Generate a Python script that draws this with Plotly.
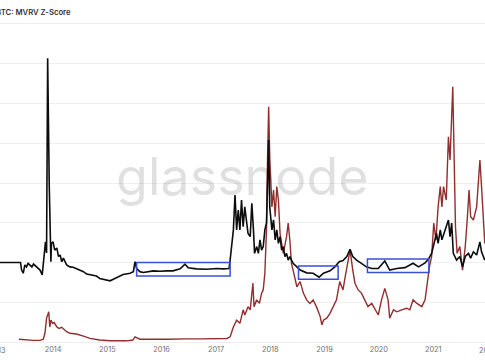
import pandas as pd
import plotly.graph_objects as go

# ---- data (decimal years, values in chart units) ----
black_years = [2013.02, 2013.40, 2013.42, 2013.45, 2013.48, 2013.51, 2013.54, 2013.61, 2013.64, 2013.70,
               2013.76, 2013.80, 2013.83, 2013.86, 2013.88, 2013.89, 2013.90, 2013.93, 2013.94, 2013.96,
               2013.97, 2014.00, 2014.03, 2014.07, 2014.10, 2014.13, 2014.16, 2014.19, 2014.25, 2014.31,
               2014.37, 2014.43, 2014.50, 2014.56, 2014.62, 2014.68, 2014.80, 2014.86, 2015.05, 2015.11,
               2015.20, 2015.29, 2015.42, 2015.48, 2015.51, 2015.54, 2015.60, 2015.66, 2015.85, 2015.97,
               2016.09, 2016.21, 2016.34, 2016.43, 2016.49, 2016.64, 2016.83, 2017.01, 2017.13, 2017.24,
               2017.26, 2017.29, 2017.32, 2017.35, 2017.38, 2017.41, 2017.44, 2017.47, 2017.50, 2017.53,
               2017.57, 2017.59, 2017.63, 2017.66, 2017.69, 2017.71, 2017.75, 2017.78, 2017.81, 2017.84,
               2017.87, 2017.90, 2017.93, 2017.95, 2017.97, 2017.99, 2018.03, 2018.06, 2018.09, 2018.12,
               2018.15, 2018.18, 2018.21, 2018.24, 2018.27, 2018.30, 2018.33, 2018.36, 2018.42, 2018.49,
               2018.55, 2018.67, 2018.79, 2018.90, 2018.98, 2019.10, 2019.19, 2019.27, 2019.34, 2019.41,
               2019.47, 2019.52, 2019.59, 2019.68, 2019.77, 2019.87, 2019.99, 2020.11, 2020.20, 2020.33,
               2020.48, 2020.63, 2020.73, 2020.85, 2020.91, 2020.97, 2021.00, 2021.06, 2021.09, 2021.13,
               2021.16, 2021.22, 2021.28, 2021.31, 2021.34, 2021.37, 2021.43, 2021.49, 2021.54, 2021.59,
               2021.65, 2021.69, 2021.74, 2021.80, 2021.86, 2021.89, 2021.95]
black_values = [2.00, 2.00, 1.81, 1.73, 1.94, 1.89, 1.98, 1.89, 1.96, 1.89,
                1.81, 1.69, 2.06, 2.52, 2.24, 3.75, 7.14, 3.91, 3.15, 2.02,
                2.48, 2.52, 2.31, 2.36, 2.15, 2.19, 2.02, 2.11, 1.94, 1.89,
                1.88, 1.85, 1.81, 1.77, 1.71, 1.69, 1.66, 1.60, 1.54, 1.58,
                1.64, 1.70, 1.73, 1.77, 2.02, 1.85, 1.77, 1.75, 1.79, 1.78,
                1.79, 1.79, 1.84, 1.96, 1.87, 1.84, 1.83, 1.85, 1.84, 1.85,
                2.06, 2.48, 2.82, 3.70, 2.82, 3.32, 2.82, 3.57, 2.90, 3.40,
                2.82, 2.73, 2.65, 3.49, 2.82, 2.23, 2.40, 2.23, 2.57, 2.31,
                2.40, 2.82, 2.99, 3.82, 5.08, 3.40, 2.82, 3.07, 2.57, 2.82,
                2.48, 2.65, 2.31, 2.40, 2.15, 2.23, 2.06, 2.15, 1.98, 1.89,
                1.81, 1.74, 1.73, 1.63, 1.73, 1.79, 1.89, 2.02, 2.05, 2.15,
                2.33, 2.15, 2.06, 1.98, 1.89, 1.85, 1.85, 2.04, 1.81, 1.85,
                1.87, 1.98, 1.89, 1.99, 2.08, 2.23, 2.40, 2.73, 2.48, 2.82,
                2.57, 2.82, 3.07, 2.65, 2.99, 2.23, 2.06, 2.15, 1.89, 2.15,
                2.23, 2.11, 2.27, 2.19, 2.52, 2.27, 2.06]

red_years = [2013.37, 2013.51, 2013.64, 2013.76, 2013.82, 2013.85, 2013.88, 2013.91, 2013.92, 2013.94,
             2013.96, 2013.99, 2014.02, 2014.07, 2014.11, 2014.16, 2014.21, 2014.25, 2014.31, 2014.43,
             2014.56, 2014.68, 2014.86, 2015.05, 2015.36, 2015.47, 2015.51, 2015.60, 2016.09, 2016.43,
             2016.47, 2016.71, 2017.20, 2017.26, 2017.32, 2017.38, 2017.44, 2017.50, 2017.53, 2017.59,
             2017.63, 2017.68, 2017.70, 2017.75, 2017.80, 2017.84, 2017.87, 2017.90, 2017.93, 2017.95,
             2017.97, 2017.99, 2018.03, 2018.06, 2018.09, 2018.12, 2018.15, 2018.18, 2018.21, 2018.24,
             2018.30, 2018.33, 2018.36, 2018.39, 2018.42, 2018.49, 2018.55, 2018.61, 2018.67, 2018.73,
             2018.79, 2018.85, 2018.92, 2018.95, 2018.98, 2019.04, 2019.10, 2019.16, 2019.22, 2019.28,
             2019.34, 2019.38, 2019.44, 2019.47, 2019.52, 2019.56, 2019.62, 2019.68, 2019.74, 2019.80,
             2019.87, 2019.93, 2019.99, 2020.05, 2020.11, 2020.17, 2020.20, 2020.27, 2020.33, 2020.42,
             2020.51, 2020.57, 2020.63, 2020.70, 2020.79, 2020.85, 2020.89, 2020.93, 2020.97, 2021.01,
             2021.05, 2021.09, 2021.13, 2021.16, 2021.19, 2021.24, 2021.28, 2021.31, 2021.36, 2021.38,
             2021.41, 2021.44, 2021.49, 2021.54, 2021.59, 2021.63, 2021.66, 2021.69, 2021.74, 2021.80,
             2021.86, 2021.89, 2021.93, 2021.95]
red_values = [0.07, 0.05, 0.04, 0.04, 0.07, 0.22, 0.60, 0.72, 0.76, 0.38,
              0.55, 0.47, 0.49, 0.38, 0.34, 0.37, 0.30, 0.26, 0.22, 0.20,
              0.15, 0.09, 0.05, 0.03, 0.03, 0.05, 0.13, 0.07, 0.07, 0.09,
              0.08, 0.08, 0.09, 0.13, 0.38, 0.55, 0.47, 0.81, 0.68, 0.89,
              0.81, 1.48, 0.89, 1.06, 0.97, 1.23, 1.31, 1.73, 2.82, 4.66,
              5.92, 4.66, 3.40, 3.82, 3.15, 3.91, 3.57, 2.73, 2.48, 2.23,
              2.65, 2.99, 2.57, 1.98, 1.81, 1.39, 1.52, 1.23, 1.06, 0.97,
              1.06, 0.89, 0.64, 0.43, 0.55, 0.60, 0.72, 0.89, 1.06, 1.52,
              1.31, 1.64, 2.15, 2.31, 1.81, 1.48, 1.31, 1.23, 1.06, 0.89,
              0.97, 0.81, 0.68, 1.06, 1.35, 1.06, 0.60, 0.81, 0.76, 0.81,
              0.85, 0.81, 1.06, 0.97, 0.89, 1.06, 1.48, 1.89, 2.15, 2.99,
              2.57, 3.40, 3.91, 3.40, 3.91, 3.57, 5.16, 4.58, 6.42, 4.58,
              2.90, 2.23, 2.40, 1.81, 2.40, 3.15, 3.82, 3.15, 3.07, 3.40,
              4.58, 3.91, 2.73, 2.48]

# highlighted ranges (blue boxes)
box_start = [2015.54, 2018.52, 2019.79]
box_end = [2017.26, 2019.25, 2020.92]
box_low = [1.66, 1.58, 1.75]
box_high = [2.00, 1.91, 2.09]

year_labels = ["2013", "2022"]


def to_date(y):
    yr = int(y)
    start = pd.Timestamp(year=yr, month=1, day=1)
    end = pd.Timestamp(year=yr + 1, month=1, day=1)
    return start + (end - start) * (y - yr)


bx = [to_date(v) for v in black_years]
rx = [to_date(v) for v in red_years]

fig = go.Figure()
fig.add_trace(go.Scatter(x=rx, y=red_values, mode="lines",
                         line=dict(color="#922e2e", width=1.4), showlegend=False))
fig.add_trace(go.Scatter(x=bx, y=black_values, mode="lines",
                         line=dict(color="#0d0d0d", width=1.6), showlegend=False))

for s, e, lo, hi in zip(box_start, box_end, box_low, box_high):
    fig.add_shape(type="rect", xref="x", yref="y", x0=to_date(s), x1=to_date(e), y0=lo, y1=hi,
                  line=dict(color="#3a4fd6", width=1.5), fillcolor="rgba(0,0,0,0)")

x0 = to_date(2013.022)
x1 = to_date(2021.954)

fig.update_layout(
    width=485, height=360,
    margin=dict(l=0, r=0, t=22, b=16),
    paper_bgcolor="white", plot_bgcolor="white",
    font=dict(family="Inter, Roboto, sans-serif", color="#6f6f6f"),
    xaxis=dict(range=[x0, x1], showgrid=False, zeroline=False, showline=False,
               tickformat="%Y", dtick="M12", tick0="2014-01-01", ticks="",
               tickfont=dict(size=7.3, color="#6f6f6f")),
    yaxis=dict(range=[-0.05, 8.05], dtick=1, tick0=0, showgrid=True, gridcolor="#efefef",
               gridwidth=1, zeroline=False, showticklabels=False, showline=False),
    annotations=[
        dict(text="BTC: MVRV Z-Score", xref="paper", yref="paper", x=-0.0125, y=1.029,
             xanchor="left", yanchor="middle", showarrow=False,
             font=dict(size=7.7, color="#333", family="Inter, sans-serif", weight=600)),
        dict(text="glassnode", xref="paper", yref="paper", x=0.501, y=0.52,
             xanchor="center", yanchor="middle", showarrow=False,
             font=dict(size=52, color="rgba(0,0,0,0.12)", family="Inter, sans-serif")),
        dict(text=year_labels[0], xref="paper", yref="paper", x=-0.0047, y=-0.021,
             xanchor="center", yanchor="middle", showarrow=False,
             font=dict(size=7.3, color="#6f6f6f")),
        dict(text=year_labels[1], xref="paper", yref="paper", x=1.0052, y=-0.021,
             xanchor="center", yanchor="middle", showarrow=False,
             font=dict(size=7.3, color="#6f6f6f")),
    ],
)

fig.write_html("out.html")
